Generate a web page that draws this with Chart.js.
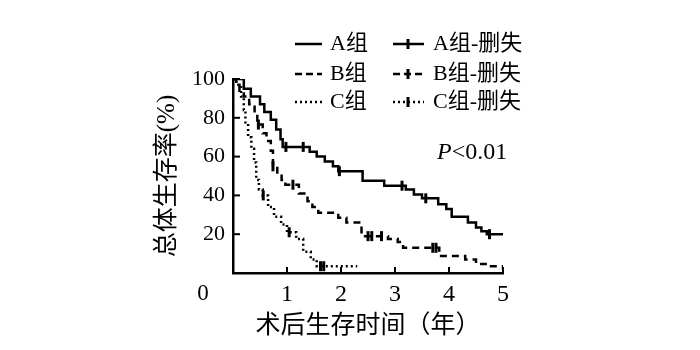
<!DOCTYPE html>
<html>
<head>
  <meta charset="utf-8">
  <title>术后生存曲线</title>
  <script src="https://cdn.jsdelivr.net/npm/chart.js"></script>
  <style>
    body { margin: 0; background: #fff; }
  </style>
</head>
<body>
  <canvas id="chart" width="700" height="350"></canvas>
  <script>
    // survival steps (years, %)
    const aTime = [0, 0.2, 0.33, 0.5, 0.58, 0.7, 0.8, 0.88, 0.92, 1.42, 1.55, 1.7, 1.85, 1.95, 2.4, 2.8, 3.2, 3.35, 3.5, 3.8, 3.95, 4.05, 4.35, 4.5, 4.6, 4.7, 5.0];
    const aSurv = [100, 95, 91, 87, 83, 79, 74, 69, 65, 62.5, 60, 57.5, 55, 52.5, 47.5, 45, 43, 40.5, 38.5, 35.5, 33, 29, 26, 23.5, 21.5, 20, 20];
    const bTime = [0, 0.06, 0.12, 0.2, 0.3, 0.4, 0.45, 0.55, 0.62, 0.7, 0.74, 0.82, 0.9, 0.97, 1.22, 1.38, 1.47, 1.58, 1.95, 2.1, 2.38, 2.87, 3.05, 3.15, 3.82, 4.3, 4.5, 4.72, 5.0];
    const bSurv = [100, 97, 94, 91, 87, 82, 76.5, 72, 68, 63, 55, 51, 48, 45.5, 41, 37, 34, 31, 28.5, 26, 19, 17.5, 16, 13, 8.7, 7, 4.6, 3.5, 1.5];
    const cTime = [0, 0.06, 0.15, 0.2, 0.23, 0.28, 0.34, 0.39, 0.43, 0.48, 0.55, 0.65, 0.76, 0.89, 1.0, 1.17, 1.3, 1.44, 1.55, 2.3];
    const cSurv = [100, 97, 91, 84, 77, 70, 64, 57, 48, 43, 40, 34, 29, 25, 21, 17.5, 11, 7, 3.5, 3.5];

    // censored observations
    const aCensTime = [0.98, 1.3, 1.97, 3.13, 3.57, 4.75];
    const aCensSurv = [65, 65, 52.5, 45, 38.5, 20];
    const bCensTime = [0.47, 0.74, 1.11, 2.5, 2.57, 2.75, 3.7, 3.76];
    const bCensSurv = [76.5, 55, 45.5, 19, 19, 19, 13, 13];
    const cCensTime = [0.56, 1.04, 1.62, 1.68];
    const cCensSurv = [40, 21, 3.5, 3.5];

    const xTicks = [1, 2, 3, 4, 5];
    const yTicks = [20, 40, 60, 80, 100];

    const serif = '"Liberation Serif", "Noto Sans CJK SC", serif';

    function pts(t, s) {
      return t.map((v, i) => ({ x: v, y: s[i] }));
    }

    function curve(label, t, s, dash) {
      return {
        label: label,
        data: pts(t, s),
        stepped: 'before',
        borderColor: '#000',
        borderWidth: 2.5,
        borderDash: dash,
        pointRadius: 0,
        fill: false
      };
    }

    function censored(label, t, s) {
      return {
        label: label,
        data: pts(t, s),
        showLine: false,
        pointStyle: 'line',
        rotation: 90,
        pointRadius: 5,
        borderWidth: 3,
        borderColor: '#000',
        backgroundColor: '#000'
      };
    }

    const legendRows = [
      { name: 'A组', dash: [] },
      { name: 'B组', dash: [7, 4] },
      { name: 'C组', dash: [2, 3] }
    ];

    const overlay = {
      id: 'overlay',
      afterDraw(chart) {
        const ctx = chart.ctx;
        const xs = chart.scales.x, ys = chart.scales.y;
        const area = chart.chartArea;
        ctx.save();
        ctx.strokeStyle = '#000';
        ctx.fillStyle = '#000';

        // inward tick marks
        ctx.lineWidth = 2;
        xTicks.forEach(v => {
          const px = xs.getPixelForValue(v);
          ctx.beginPath();
          ctx.moveTo(px, area.bottom);
          ctx.lineTo(px, area.bottom - 6);
          ctx.stroke();
        });
        yTicks.forEach(v => {
          const py = ys.getPixelForValue(v);
          ctx.beginPath();
          ctx.moveTo(area.left, py);
          ctx.lineTo(area.left + 7, py);
          ctx.stroke();
        });

        // shared origin label
        ctx.font = '23px ' + serif;
        ctx.textAlign = 'center';
        ctx.textBaseline = 'middle';
        ctx.fillText('0', 203, 294);

        // P value
        ctx.textAlign = 'left';
        ctx.textBaseline = 'alphabetic';
        ctx.font = 'italic 24px ' + serif;
        ctx.fillText('P', 437, 159);
        const pw = ctx.measureText('P').width;
        ctx.font = '24px ' + serif;
        ctx.fillText('<0.01', 437 + pw, 159);

        // legend
        const rowY = [44, 74, 102];
        ctx.font = '22px ' + serif;
        ctx.textBaseline = 'middle';
        legendRows.forEach((row, i) => {
          const y = rowY[i];
          ctx.lineWidth = 2.5;
          ctx.setLineDash(row.dash);
          ctx.beginPath();
          ctx.moveTo(295, y);
          ctx.lineTo(322, y);
          ctx.stroke();
          ctx.beginPath();
          ctx.moveTo(393, y);
          ctx.lineTo(424, y);
          ctx.stroke();
          ctx.setLineDash([]);
          ctx.lineWidth = 3;
          ctx.beginPath();
          ctx.moveTo(408, y - 5);
          ctx.lineTo(408, y + 5);
          ctx.stroke();
          ctx.fillText(row.name, 330, y);
          ctx.fillText(row.name + '-删失', 433, y);
        });
        ctx.restore();
      }
    };

    new Chart(document.getElementById('chart'), {
      type: 'line',
      data: {
        datasets: [
          curve('A组', aTime, aSurv, []),
          curve('B组', bTime, bSurv, [7, 5]),
          curve('C组', cTime, cSurv, [2, 3]),
          censored('A组-删失', aCensTime, aCensSurv),
          censored('B组-删失', bCensTime, bCensSurv),
          censored('C组-删失', cCensTime, cCensSurv)
        ]
      },
      options: {
        responsive: false,
        animation: false,
        layout: { padding: { left: 0, right: 197, top: 79, bottom: 0 } },
        plugins: {
          legend: { display: false },
          tooltip: { enabled: false }
        },
        scales: {
          x: {
            type: 'linear',
            min: 0,
            max: 5,
            afterFit: axis => { axis.height = 77; },
            grid: { display: false, drawTicks: false },
            border: { display: true, color: '#000', width: 2.5 },
            ticks: {
              stepSize: 1,
              padding: 7,
              color: '#000',
              font: { family: serif, size: 24 },
              callback: v => (v === 0 ? '' : v)
            },
            title: {
              display: true,
              text: '术后生存时间（年）',
              color: '#000',
              font: { family: serif, size: 25 },
              padding: { top: 0, bottom: 9 }
            }
          },
          y: {
            min: 0,
            max: 100,
            afterFit: axis => { axis.width = 233; },
            grid: { display: false, drawTicks: false },
            border: { display: true, color: '#000', width: 2.5 },
            ticks: {
              stepSize: 20,
              padding: 8,
              color: '#000',
              font: { family: serif, size: 22 },
              callback: v => (v === 0 ? '' : v)
            },
            title: {
              display: true,
              text: '总体生存率(%)',
              color: '#000',
              font: { family: serif, size: 25 },
              padding: { top: 152, bottom: 0 }
            }
          }
        }
      },
      plugins: [overlay]
    });
  </script>
</body>
</html>
